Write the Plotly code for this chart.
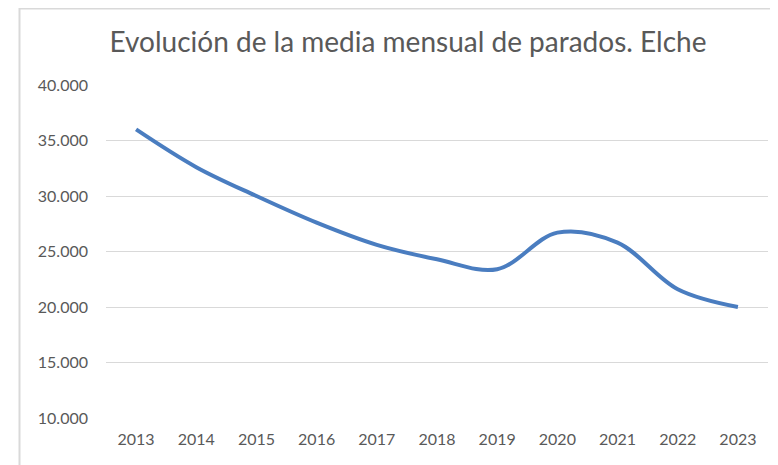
import plotly.graph_objects as go

years = ["2013", "2014", "2015", "2016", "2017", "2018", "2019", "2020", "2021", "2022", "2023"]
parados = [36000, 32600, 30000, 27600, 25600, 24300, 23400, 26700, 25800, 21600, 20000]
y_ticks = [10000, 15000, 20000, 25000, 30000, 35000, 40000]
y_labels = ["10.000", "15.000", "20.000", "25.000", "30.000", "35.000", "40.000"]
title_text = "Evolución de la media mensual de parados. Elche"

W, H = 778, 465
OFF = 8  # page body margin
L, R, T, B = 98, 18, 77, 55
pw, ph = W - L - R, H - T - B

def px_x(p):
    return (p - OFF - L) / pw

def px_y(p):
    return (H - B - (p - OFF)) / ph

fig = go.Figure()
fig.add_trace(go.Scatter(
    x=years, y=parados, mode="lines",
    line=dict(color="#4A7DC0", width=4, shape="spline", smoothing=1.0),
    hoverinfo="skip", showlegend=False,
))

fig.update_layout(
    width=W, height=H,
    margin=dict(l=L, r=R, t=T, b=B),
    paper_bgcolor="white", plot_bgcolor="white",
    font=dict(family="Lato, Open Sans, sans-serif", color="#595959", size=16),
    title=dict(text=title_text, x=(408 - OFF) / W, xanchor="center", y=1 - 34.5 / H, yanchor="middle",
               font=dict(size=28, color="#595959")),
    xaxis=dict(type="category", range=[-0.5, 10.5], showgrid=False, zeroline=False, showline=False,
               ticks="", ticklabelstandoff=10, tickfont=dict(size=16, color="#595959")),
    yaxis=dict(range=[10000, 40000], tickvals=y_ticks, ticktext=y_labels,
               showgrid=True, gridcolor="#d9d9d9", gridwidth=1, zeroline=False,
               showline=False, ticks="", ticklabelstandoff=17,
               tickfont=dict(size=16, color="#595959")),
    shapes=[dict(type="rect", xref="paper", yref="paper",
                 x0=px_x(19.5), x1=px_x(820), y0=px_y(8.5), y1=px_y(520),
                 line=dict(color="#d9d9d9", width=2), fillcolor="rgba(0,0,0,0)", layer="below")],
)

fig.write_html("out.html")
